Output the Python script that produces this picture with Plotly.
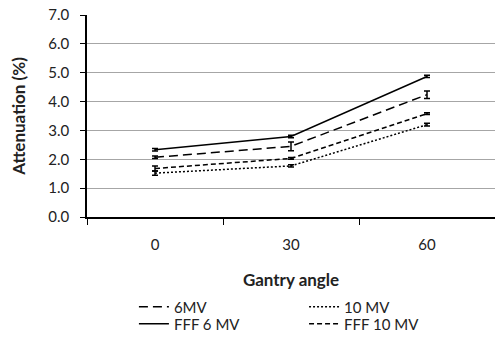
import plotly.graph_objects as go

angles = ["0", "30", "60"]
series_names = ["6MV", "10 MV", "FFF 6 MV", "FFF 10 MV"]
v_6mv = [2.07, 2.45, 4.24]
e_6mv = [0.04, 0.15, 0.13]
v_10mv = [1.52, 1.77, 3.20]
e_10mv = [0.07, 0.04, 0.05]
v_fff6 = [2.33, 2.79, 4.87]
e_fff6 = [0.04, 0.04, 0.04]
v_fff10 = [1.68, 2.03, 3.58]
e_fff10 = [0.09, 0.03, 0.03]

styles = {
    "6MV": "9px,5px",
    "10 MV": "2px,2px",
    "FFF 6 MV": "solid",
    "FFF 10 MV": "5px,3px",
}
# legend slot per series: (legend id, x in paper, y in container)
legend_pos = {"6MV": ("legend", 0.115, 0.0917),
              "10 MV": ("legend2", 0.532, 0.0917),
              "FFF 6 MV": ("legend3", 0.115, 0.0414),
              "FFF 10 MV": ("legend4", 0.532, 0.0414)}
vals = {"6MV": (v_6mv, e_6mv), "10 MV": (v_10mv, e_10mv),
        "FFF 6 MV": (v_fff6, e_fff6), "FFF 10 MV": (v_fff10, e_fff10)}

font = "Lato, 'Open Sans', sans-serif"
fig = go.Figure()
legends = {}
for name in series_names:
    v, e = vals[name]
    lid, lx, ly = legend_pos[name]
    fig.add_trace(go.Scatter(
        x=angles, y=v, name=name, mode="lines", legend=lid, showlegend=True,
        line=dict(color="black", width=1.5, dash=styles[name]),
        error_y=dict(type="data", array=e, visible=True, color="black",
                     thickness=1.5, width=3),
    ))
    legends[lid] = dict(orientation="v", x=lx, xanchor="left", y=ly,
                        yref="container", yanchor="middle",
                        font=dict(size=15), bgcolor="rgba(0,0,0,0)")

fig.update_layout(
    width=495, height=338,
    showlegend=True,
    margin=dict(l=87, r=0, t=15, b=121, autoexpand=False),
    plot_bgcolor="white", paper_bgcolor="white",
    font=dict(family=font, size=15, color="#222"),
    **legends,
)
fig.update_xaxes(
    type="category", tickson="boundaries", ticks="outside", ticklen=6,
    tickcolor="black", showline=True, linecolor="black", linewidth=1.5,
    showgrid=False, range=[-0.5, 2.5], ticklabelstandoff=13,
    title=dict(text="<b>Gantry angle</b>", standoff=34, font=dict(size=17)),
)
fig.update_yaxes(
    range=[0, 7], dtick=1, tickformat=".1f", ticks="outside", ticklen=5,
    tickcolor="black", showline=True, linecolor="black", linewidth=1.5,
    showgrid=True, gridcolor="#a6a6a6", gridwidth=1, zeroline=False,
    ticklabelstandoff=8,
    title=dict(text="<b>Attenuation (%)</b>", standoff=18, font=dict(size=17)),
)
fig.write_html("out.html")
